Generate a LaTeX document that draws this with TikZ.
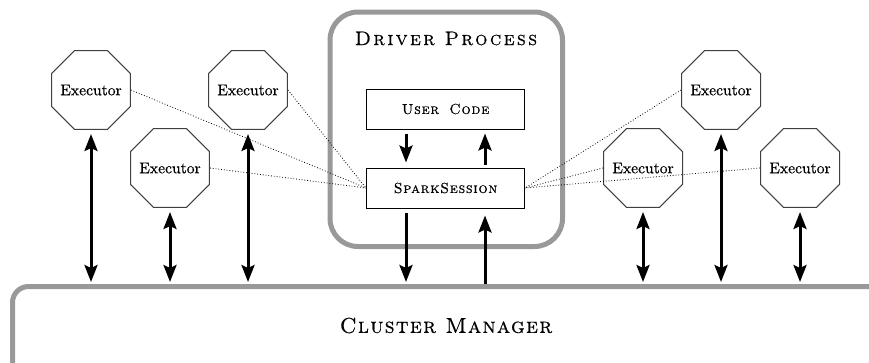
\documentclass[tikz,border=0pt]{standalone}
\usepackage{fontspec}
\usetikzlibrary{shapes.geometric,arrows.meta}
\newfontfamily\labelfont[FakeBold=0.5]{lmroman10-regular.otf}
\newfontfamily\titlefont[LetterSpace=12, FakeBold=0.5]{lmromancaps10-regular.otf}
\newfontfamily\boxfont[LetterSpace=5, FakeBold=0.5]{lmromancaps10-regular.otf}
\newfontfamily\basefont[LetterSpace=6, FakeBold=0.5]{lmromancaps10-regular.otf}

\tikzset{
  frame/.style={draw=black!40, line width=5pt, rounded corners=#1},
  executor/.style={regular polygon, regular polygon sides=8, minimum size=85.5pt,
    inner sep=-10pt, draw=black!75, line width=1pt,
    font=\labelfont\fontsize{15.6}{17}\selectfont},
  codebox/.style={draw=black, line width=1pt, minimum width=158pt, minimum height=40pt,
    inner sep=0pt, font=\boxfont\fontsize{14.5}{16}\selectfont},
  link/.style={dotted, line width=0.8pt},
  bigtip/.tip={Stealth[length=17pt, width=13pt, inset=3pt]},
  flow/.style={line width=3pt, -{bigtip}},
  biflow/.style={line width=3pt, {bigtip}-{bigtip}},
}

\begin{document}
\begin{tikzpicture}[x=1pt, y=-1pt]
  \useasboundingbox (0,0) rectangle (869,362);

  % driver process frame
  \draw[frame=28pt] (330,12) rectangle (562.5,246.5);
  \node[font=\titlefont\fontsize{19.5}{21}\selectfont] (drv) at (446,38.5) {Driver Process};

  % cluster manager frame, running off the right and bottom edges
  \begin{scope}
    \clip (0,0) rectangle (869,362);
    \draw[frame=16pt] (12.5,286.5) rectangle (900,400);
  \end{scope}
  \node[font=\basefont\fontsize{21.5}{23}\selectfont] (cm) at (446,325.5) {Cluster Manager};

  % driver contents
  \node[codebox] (uc) at (445.5,109) {User\hspace{4pt} Code};
  \node[codebox] (ss) at (445.5,188) {SparkSession};

  % executors
  \node[executor] (e1) at (91,90)   {Executor};
  \node[executor] (e2) at (170,168) {Executor};
  \node[executor] (e3) at (248,90)  {Executor};
  \node[executor] (e4) at (721,90)  {Executor};
  \node[executor] (e5) at (643,168) {Executor};
  \node[executor] (e6) at (800,168) {Executor};

  % dotted links to the session
  \foreach \e in {e1,e2,e3} \draw[link] (\e.east) -- (ss.west);
  \foreach \e in {e4,e5,e6} \draw[link] (\e.west) -- (ss.east);

  % arrows inside the driver
  \coordinate (ucd) at ([xshift=-39.5pt, yshift=-4pt]uc.south);
  \coordinate (ssd) at ([xshift=-39.5pt, yshift=5pt]ss.north);
  \draw[flow] (ucd) -- (ssd);
  \coordinate (ssu) at ([xshift=39.5pt, yshift=3pt]ss.north);
  \coordinate (ucu) at ([xshift=39.5pt, yshift=-4pt]uc.south);
  \draw[flow] (ssu) -- (ucu);

  % arrows between session and cluster manager
  \coordinate (cmtop) at (0,284);
  \coordinate (cmtip) at (0,282);
  \draw[flow] ([xshift=-39.5pt, yshift=-4pt]ss.south) -- (ssd |- cmtip);
  \draw[flow] (ssu |- cmtop) -- ([xshift=39.5pt, yshift=-7pt]ss.south);

  % executor <-> cluster manager
  \foreach \e in {e1,e2,e3,e4,e5,e6}
    \draw[biflow] ([yshift=-4pt]\e.south) -- (\e.south |- cmtip);
\end{tikzpicture}
\end{document}
